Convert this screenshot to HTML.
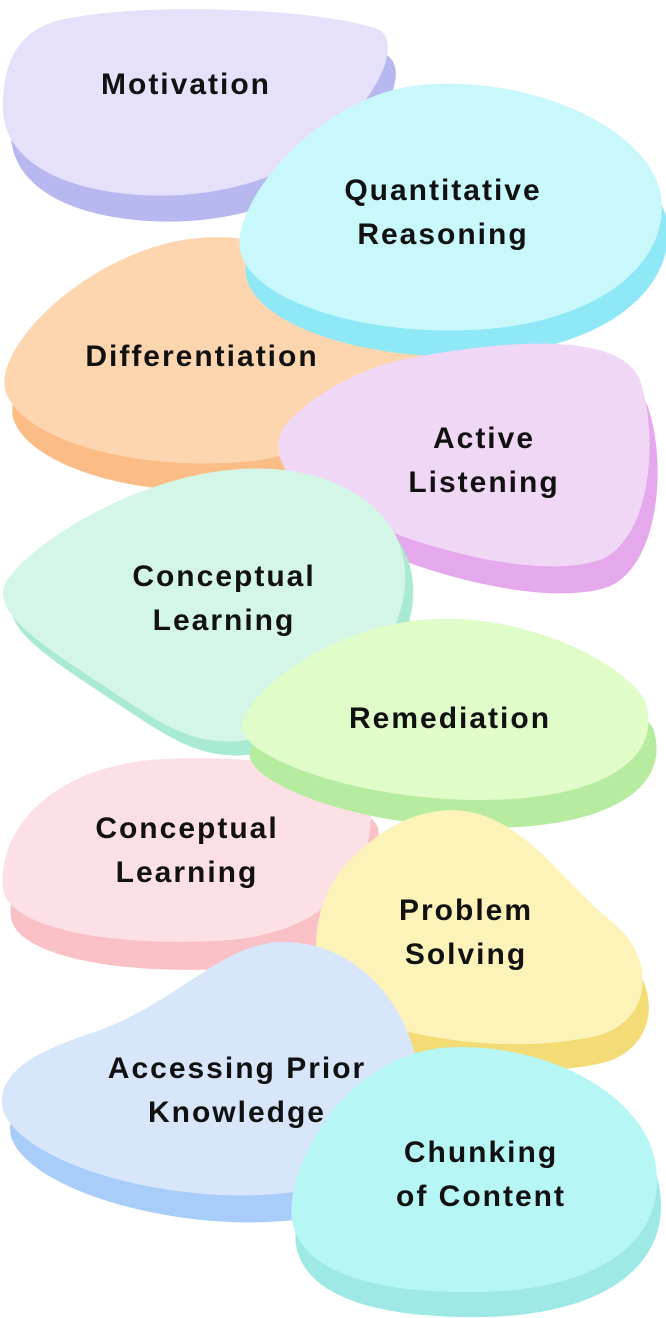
<!DOCTYPE html>
<html><head><meta charset="utf-8"><style>
html,body{margin:0;padding:0;background:#fff;}
svg{display:block;}
text{font-family:"Liberation Sans",sans-serif;font-weight:bold;font-size:30px;letter-spacing:2px;fill:#111;text-anchor:middle;}
</style></head><body>
<svg width="666" height="1318" viewBox="0 0 666 1318" xmlns="http://www.w3.org/2000/svg">
<defs>
<path id="p1" d="M60,20 C150,0 330,10 380,30 C400,45 380,90 340,130 C300,175 220,200 140,195 C60,190 5,160 3,110 C2,60 20,30 60,20Z"/>
<path id="p2" d="M420,85 C520,75 640,120 660,190 C675,260 600,325 470,330 C360,335 250,300 240,250 C232,200 320,95 420,85Z"/>
<path id="p3" d="M200,238 C300,230 390,290 420,330 C440,370 380,440 260,460 C140,475 20,440 5,390 C-5,340 100,245 200,238Z"/>
<path id="p4" d="M400,360 C500,340 620,330 640,380 C660,440 650,540 600,560 C540,580 420,550 340,510 C270,480 270,440 290,420 C320,390 360,370 400,360Z"/>
<path id="p5" d="M230,470 C320,460 400,500 405,570 C410,650 330,720 260,738 C200,750 170,730 110,690 C50,650 0,620 3,590 C8,560 120,480 230,470Z"/>
<path id="p6" d="M420,620 C520,610 620,660 645,700 C665,760 600,800 480,800 C360,800 250,760 242,730 C238,700 320,630 420,620Z"/>
<path id="p7" d="M150,760 C250,752 360,770 370,800 C378,860 340,930 230,940 C120,948 10,930 3,890 C-3,830 50,770 150,760Z"/>
<path id="p8" d="M450,810 C520,810 560,880 610,920 C660,960 650,1020 600,1035 C520,1055 400,1040 350,1010 C300,980 310,900 350,860 C380,830 410,812 450,810Z"/>
<path id="p9" d="M280,942 C360,940 410,1010 418,1070 C425,1150 370,1190 260,1195 C150,1200 20,1160 3,1110 C-5,1070 40,1050 100,1030 C180,1000 220,945 280,942Z"/>
<path id="p10" d="M440,1048 C540,1040 640,1090 655,1160 C670,1240 600,1290 480,1292 C370,1294 300,1270 292,1220 C285,1170 340,1060 440,1048Z"/>
</defs>

<use href="#p1" transform="translate(8,26)" fill="#b8b8f0"/><use href="#p1" fill="#e6e0fb"/>
<text x="186" y="94">Motivation</text>

<use href="#p3" transform="translate(8,28)" fill="#fbbd85"/><use href="#p3" fill="#fdd5ae"/>
<text x="202" y="366">Differentiation</text>

<use href="#p2" transform="translate(6,26)" fill="#8fe8f6"/><use href="#p2" fill="#c9f8fc"/>
<text x="443" y="200">Quantitative</text><text x="443" y="244">Reasoning</text>

<use href="#p4" transform="translate(8,27)" fill="#e6a8ec"/><use href="#p4" fill="#f0d7f5"/>
<text x="484" y="448">Active</text><text x="484" y="492">Listening</text>

<use href="#p5" transform="translate(8,14)" fill="#a9ead3"/><use href="#p5" fill="#d3f6e6"/>
<text x="224" y="586">Conceptual</text><text x="224" y="630">Learning</text>

<use href="#p7" transform="translate(8,28)" fill="#f9c0c5"/><use href="#p7" fill="#fde0e5"/>
<text x="187" y="838">Conceptual</text><text x="187" y="882">Learning</text>

<use href="#p6" transform="translate(8,28)" fill="#b7eca0"/><use href="#p6" fill="#dffcc9"/>
<text x="450" y="728">Remediation</text>

<use href="#p8" transform="translate(6,27)" fill="#f3dc75"/><use href="#p8" fill="#fdf3b8"/>
<text x="466" y="920">Problem</text><text x="466" y="964">Solving</text>

<use href="#p9" transform="translate(8,27)" fill="#a9cdfa"/><use href="#p9" fill="#d7e6fb"/>
<text x="237" y="1078">Accessing Prior</text><text x="237" y="1122">Knowledge</text>

<use href="#p10" transform="translate(4,25)" fill="#9ee9e6"/><use href="#p10" fill="#b6f7f5"/>
<text x="481" y="1162">Chunking</text><text x="481" y="1206">of Content</text>
</svg>
</body></html>
